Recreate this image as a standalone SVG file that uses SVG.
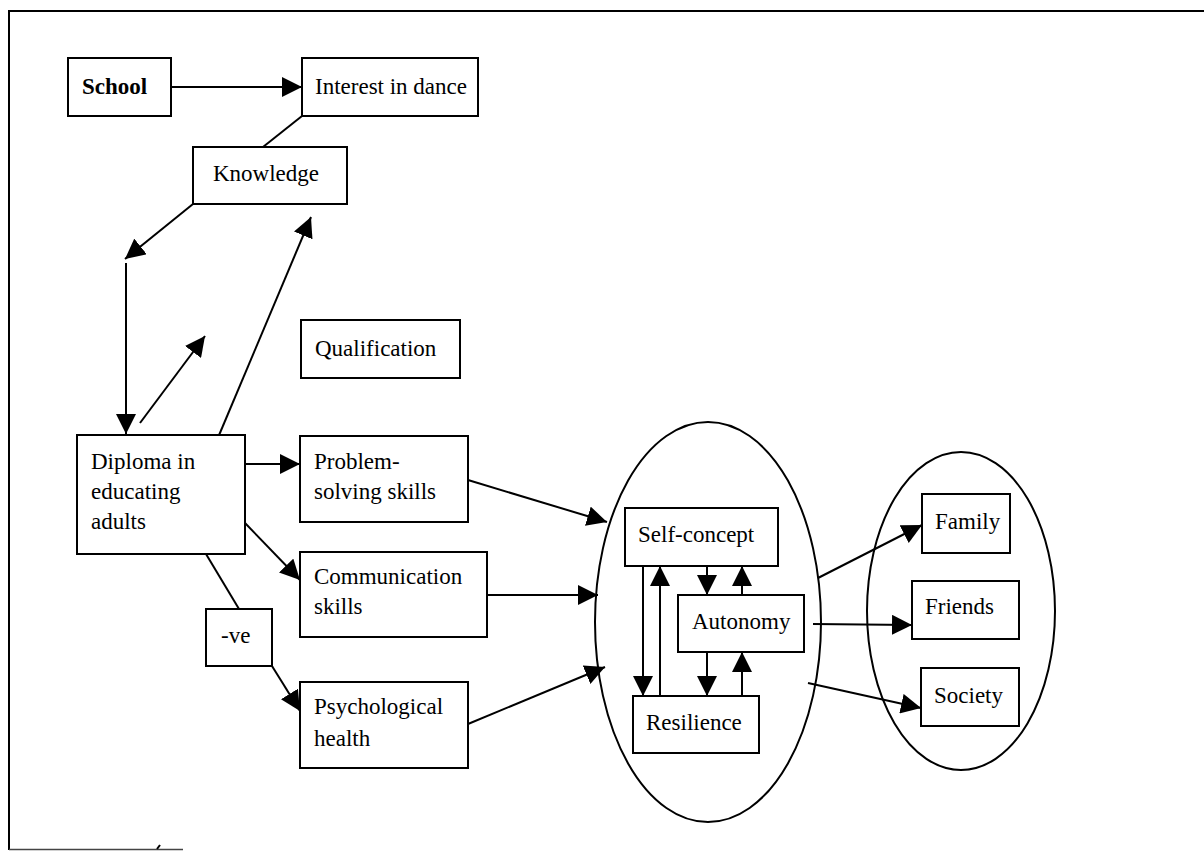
<svg xmlns="http://www.w3.org/2000/svg" width="1204" height="851" viewBox="0 0 1204 851">
<style>
rect.box{fill:#fff;stroke:#000;stroke-width:2}
.ell{fill:none;stroke:#000;stroke-width:2}
.ln{stroke:#000;stroke-width:2;fill:none}
.ar{stroke:#000;stroke-width:2;fill:none;marker-end:url(#ah)}
text{font-family:'Liberation Serif','DejaVu Serif','Noto Serif',serif;font-size:23px;fill:#000}
.b{font-weight:bold}
</style>
<defs>
<marker id="ah" viewBox="0 0 20 20" refX="20" refY="10" markerWidth="20" markerHeight="20" markerUnits="userSpaceOnUse" orient="auto">
<path d="M0,0 L20,10 L0,20 Z" fill="#000"/>
</marker>
</defs>
<rect width="1204" height="851" fill="#fff"/>
<g id="frame">
<line class="ln" x1="9" y1="11" x2="1204" y2="11"/>
<line class="ln" x1="9" y1="10" x2="9" y2="850"/>
<line x1="9" y1="849.5" x2="183" y2="849.5" stroke="#444" stroke-width="1.5"/>
<line x1="157" y1="849" x2="160" y2="845" stroke="#000" stroke-width="2"/>
</g>
<g id="connectors">
<line class="ar" x1="171" y1="87" x2="302" y2="87"/>
<line class="ln" x1="302" y1="116" x2="263" y2="147"/>
<line class="ar" x1="193" y1="204" x2="125" y2="259"/>
<line class="ar" x1="126" y1="263" x2="126" y2="434"/>
<line class="ar" x1="140" y1="423" x2="205" y2="336"/>
<line class="ar" x1="217" y1="440" x2="311" y2="217"/>
<line class="ar" x1="245" y1="464" x2="300" y2="464"/>
<line class="ar" x1="245" y1="523" x2="300" y2="580"/>
<line class="ln" x1="206" y1="554" x2="239" y2="609"/>
<line class="ar" x1="272" y1="666" x2="300" y2="711"/>
<line class="ar" x1="468" y1="480" x2="607" y2="522"/>
<line class="ar" x1="487" y1="595" x2="598" y2="595"/>
<line class="ar" x1="468" y1="724" x2="605" y2="667"/>
<line class="ar" x1="643" y1="566" x2="643" y2="696"/>
<line class="ar" x1="660" y1="696" x2="660" y2="566"/>
<line class="ar" x1="707" y1="566" x2="707" y2="595"/>
<line class="ar" x1="742" y1="595" x2="742" y2="566"/>
<line class="ar" x1="707" y1="652" x2="707" y2="696"/>
<line class="ar" x1="742" y1="696" x2="742" y2="652"/>
<line class="ar" x1="818" y1="578" x2="922" y2="525"/>
<line class="ar" x1="813" y1="624" x2="912" y2="625"/>
<line class="ar" x1="808" y1="683" x2="921" y2="708"/>
</g>
<g id="core-ellipse"><ellipse class="ell" cx="708" cy="622" rx="113" ry="200"/></g>
<g id="social-ellipse"><ellipse class="ell" cx="961" cy="611" rx="94" ry="159"/></g>
<g id="school"><rect class="box" x="68" y="58" width="103" height="58"/><text class="b" x="82" y="94">School</text></g>
<g id="interest"><rect class="box" x="302" y="58" width="176" height="58"/><text x="315" y="94">Interest in dance</text></g>
<g id="knowledge"><rect class="box" x="193" y="147" width="154" height="57"/><text x="213" y="181">Knowledge</text></g>
<g id="qualification"><rect class="box" x="301" y="320" width="159" height="58"/><text x="315" y="356">Qualification</text></g>
<g id="diploma"><rect class="box" x="77" y="435" width="168" height="119"/><text x="91" y="469">Diploma in</text><text x="91" y="499">educating</text><text x="91" y="529">adults</text></g>
<g id="problem"><rect class="box" x="300" y="436" width="168" height="86"/><text x="314" y="469">Problem-</text><text x="314" y="499">solving skills</text></g>
<g id="communication"><rect class="box" x="300" y="552" width="187" height="85"/><text x="314" y="584">Communication</text><text x="314" y="614">skills</text></g>
<g id="neg"><rect class="box" x="206" y="609" width="66" height="57"/><text x="221" y="643">-ve</text></g>
<g id="psych"><rect class="box" x="300" y="682" width="168" height="86"/><text x="314" y="714">Psychological</text><text x="314" y="746">health</text></g>
<g id="selfconcept"><rect class="box" x="625" y="508" width="153" height="58"/><text x="638" y="542">Self-concept</text></g>
<g id="autonomy"><rect class="box" x="678" y="595" width="126" height="57"/><text x="692" y="629">Autonomy</text></g>
<g id="resilience"><rect class="box" x="633" y="696" width="126" height="57"/><text x="646" y="730">Resilience</text></g>
<g id="family"><rect class="box" x="922" y="494" width="88" height="59"/><text x="935" y="529">Family</text></g>
<g id="friends"><rect class="box" x="912" y="581" width="107" height="58"/><text x="925" y="614">Friends</text></g>
<g id="society"><rect class="box" x="921" y="668" width="98" height="58"/><text x="934" y="703">Society</text></g>
</svg>
